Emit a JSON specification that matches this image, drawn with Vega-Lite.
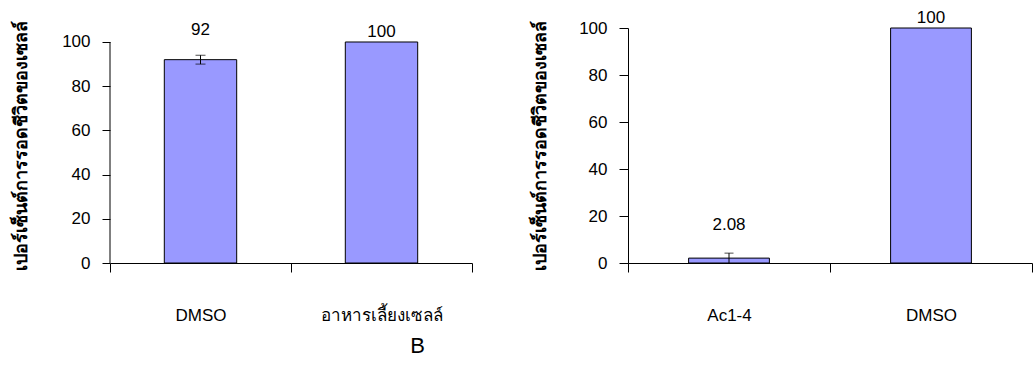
{
  "$schema": "https://vega.github.io/schema/vega-lite/v6.json",
  "background": "white",
  "padding": {"left": 12, "top": 9, "right": 0, "bottom": 2},
  "bounds": "flush",
  "spacing": 156,
  "config": {
    "view": {"stroke": null},
    "font": "Liberation Sans",
    "axis": {
      "domainColor": "black", "tickColor": "black", "labelColor": "black", "titleColor": "black",
      "labelFont": "Liberation Sans", "labelFontSize": 17, "grid": false,
      "domainWidth": 1, "tickWidth": 1
    }
  },
  "datasets": {
    "left": [
      {"group": "DMSO", "value": 92, "lo": 90, "hi": 94},
      {"group": "อาหารเลี้ยงเซลล์", "value": 100, "lo": 100, "hi": 100}
    ],
    "right": [
      {"group": "Ac1-4", "value": 2.08, "lo": 0, "hi": 4.2},
      {"group": "DMSO", "value": 100, "lo": 100, "hi": 100}
    ]
  },
  "title": {"text": "B", "orient": "bottom", "anchor": "middle", "fontSize": 22, "fontWeight": "normal", "font": "Liberation Sans", "color": "black", "dx": -105, "offset": 13},
  "hconcat": [
    {
      "width": 362,
      "height": 235,
      "data": {"name": "left"},
      "encoding": {
        "x": {"field": "group", "type": "nominal", "sort": null,
          "scale": {"paddingInner": 0, "paddingOuter": 0},
          "axis": {"title": null, "labelAngle": 0, "tickBand": "extent", "tickSize": 9, "labelPadding": 35}}
      },
      "layer": [
        {
          "mark": {"type": "bar", "fill": "#9999ff", "stroke": "black", "strokeWidth": 1, "width": {"band": 0.4}},
          "encoding": {
            "y": {"field": "value", "type": "quantitative",
              "scale": {"domain": [0, 106.33], "nice": false},
              "axis": {"values": [0, 20, 40, 60, 80, 100], "domain": false, "tickSize": 8, "labelPadding": 12,
                "title": "เปอร์เซ็นต์การรอดชีวิตของเซลล์", "titleFontSize": 18, "titleFontWeight": "bold", "titlePadding": 31}}
          }
        },
        {
          "data": {"values": [{}]},
          "mark": {"type": "rule", "color": "black", "strokeWidth": 1},
          "encoding": {
            "x": {"datum": "DMSO", "bandPosition": 0},
            "y": {"datum": 0, "type": "quantitative"},
            "y2": {"datum": 100}
          }
        },
        {
          "transform": [{"filter": "datum.hi > datum.lo"}],
          "mark": {"type": "rule", "color": "black", "strokeWidth": 1},
          "encoding": {"y": {"field": "lo", "type": "quantitative"}, "y2": {"field": "hi"}}
        },
        {
          "transform": [{"filter": "datum.hi > datum.lo"}],
          "mark": {"type": "tick", "color": "black", "thickness": 1, "size": 10},
          "encoding": {"y": {"field": "lo", "type": "quantitative"}}
        },
        {
          "transform": [{"filter": "datum.hi > datum.lo"}],
          "mark": {"type": "tick", "color": "black", "thickness": 1, "size": 10},
          "encoding": {"y": {"field": "hi", "type": "quantitative"}}
        },
        {
          "transform": [{"filter": "datum.value < 100"}],
          "mark": {"type": "text", "fontSize": 17, "color": "black", "baseline": "alphabetic", "dy": -20},
          "encoding": {"y": {"field": "hi", "type": "quantitative"}, "text": {"field": "value", "type": "quantitative"}}
        },
        {
          "transform": [{"filter": "datum.value >= 100"}],
          "mark": {"type": "text", "fontSize": 17, "color": "black", "baseline": "alphabetic", "dy": -5},
          "encoding": {"y": {"field": "value", "type": "quantitative"}, "text": {"field": "value", "type": "quantitative"}}
        }
      ]
    },
    {
      "width": 404,
      "height": 235,
      "data": {"name": "right"},
      "encoding": {
        "x": {"field": "group", "type": "nominal", "sort": null,
          "scale": {"paddingInner": 0, "paddingOuter": 0},
          "axis": {"title": null, "labelAngle": 0, "tickBand": "extent", "tickSize": 9, "labelPadding": 35}}
      },
      "layer": [
        {
          "mark": {"type": "bar", "fill": "#9999ff", "stroke": "black", "strokeWidth": 1, "width": {"band": 0.4}},
          "encoding": {
            "y": {"field": "value", "type": "quantitative",
              "scale": {"domain": [0, 100], "nice": false},
              "axis": {"values": [0, 20, 40, 60, 80, 100], "tickSize": 9, "labelPadding": 12,
                "title": "เปอร์เซ็นต์การรอดชีวิตของเซลล์", "titleFontSize": 18, "titleFontWeight": "bold", "titlePadding": 29}}
          }
        },
        {
          "transform": [{"filter": "datum.hi > datum.lo"}],
          "mark": {"type": "rule", "color": "black", "strokeWidth": 1},
          "encoding": {"y": {"field": "lo", "type": "quantitative"}, "y2": {"field": "hi"}}
        },
        {
          "transform": [{"filter": "datum.hi > datum.lo"}],
          "mark": {"type": "tick", "color": "black", "thickness": 1, "size": 9},
          "encoding": {"y": {"field": "hi", "type": "quantitative"}}
        },
        {
          "transform": [{"filter": "datum.value < 100"}],
          "mark": {"type": "text", "fontSize": 17, "color": "black", "baseline": "alphabetic", "dy": -23},
          "encoding": {"y": {"field": "hi", "type": "quantitative"}, "text": {"field": "value", "type": "quantitative"}}
        },
        {
          "transform": [{"filter": "datum.value >= 100"}],
          "mark": {"type": "text", "fontSize": 17, "color": "black", "baseline": "alphabetic", "dy": -5},
          "encoding": {"y": {"field": "value", "type": "quantitative"}, "text": {"field": "value", "type": "quantitative"}}
        }
      ]
    }
  ]
}
